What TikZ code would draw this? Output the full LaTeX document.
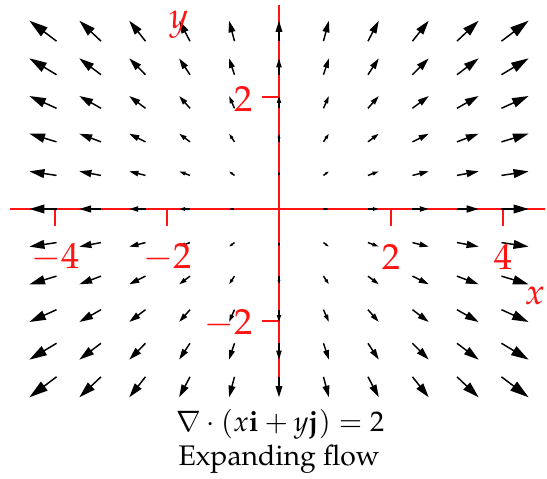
\documentclass[tikz,border=0pt]{standalone}
\usepackage[T1]{fontenc}
\usepackage{mathpazo}
\usepackage{amsmath}
\usetikzlibrary{arrows.meta}
\definecolor{axisred}{RGB}{255,20,20}

\begin{document}
\begin{tikzpicture}[
    axis/.style={draw=axisred, line width=0.6pt},
    ticklabel/.style={font=\fontsize{18.5}{20}\selectfont, text=axisred, inner sep=0pt},
    caption/.style={font=\fontsize{14.4}{17}\selectfont, inner sep=0pt},
    vec/.style={line width=0.75pt},
]
\useasboundingbox (-4.982,-4.804) rectangle (4.786,3.732);

% Axes
\draw[axis] (-4.80,0) -- (4.75,0);
\draw[axis] (0,-3.32) -- (0,3.64);
\foreach \t in {-4,-2,2,4} \draw[axis] (\t,0) -- (\t,-0.3);
\foreach \t in {-2,2} \draw[axis] (0,\t) -- (-0.3,\t);

% Field
\foreach \i in {-5,...,5}
  \foreach \j in {-5,...,5} {
    \pgfmathsetmacro{\px}{0.843*\i}
    \pgfmathsetmacro{\py}{0.636*\j}
    \pgfmathsetmacro{\len}{0.115*sqrt(\px*\px+\py*\py)}
    \ifdim \len pt>0.001pt
      \pgfmathsetmacro{\hl}{0.55*\len}
      \pgfmathsetmacro{\hw}{0.32*\len}
      \draw[vec, -{Triangle[length=\hl cm, width=\hw cm]}]
        ({0.9425*\px},{0.9425*\py}) -- ({1.0575*\px},{1.0575*\py});
    \fi
  }

% Labels
\foreach \t in {-4,-2,2,4} \node[ticklabel] (xt\t) at (\t,-0.86) {$\t$};
\node[ticklabel, anchor=east] (yt2) at (-0.47,1.955) {$2$};
\node[ticklabel, anchor=east] (ytm2) at (-0.47,-2.04) {$-2$};
\node[ticklabel] (xlab) at (4.57,-1.55) {$x$};
\node[ticklabel] (ylab) at (-1.79,3.29) {$y$};

% Caption
\node[caption] (divlabel) at (0.02,-3.84) {$\nabla\cdot(x\mathbf{i}+y\mathbf{j})=2$};
\node[caption] (flowlabel) at (0,-4.47) {Expanding flow};
\end{tikzpicture}
\end{document}
